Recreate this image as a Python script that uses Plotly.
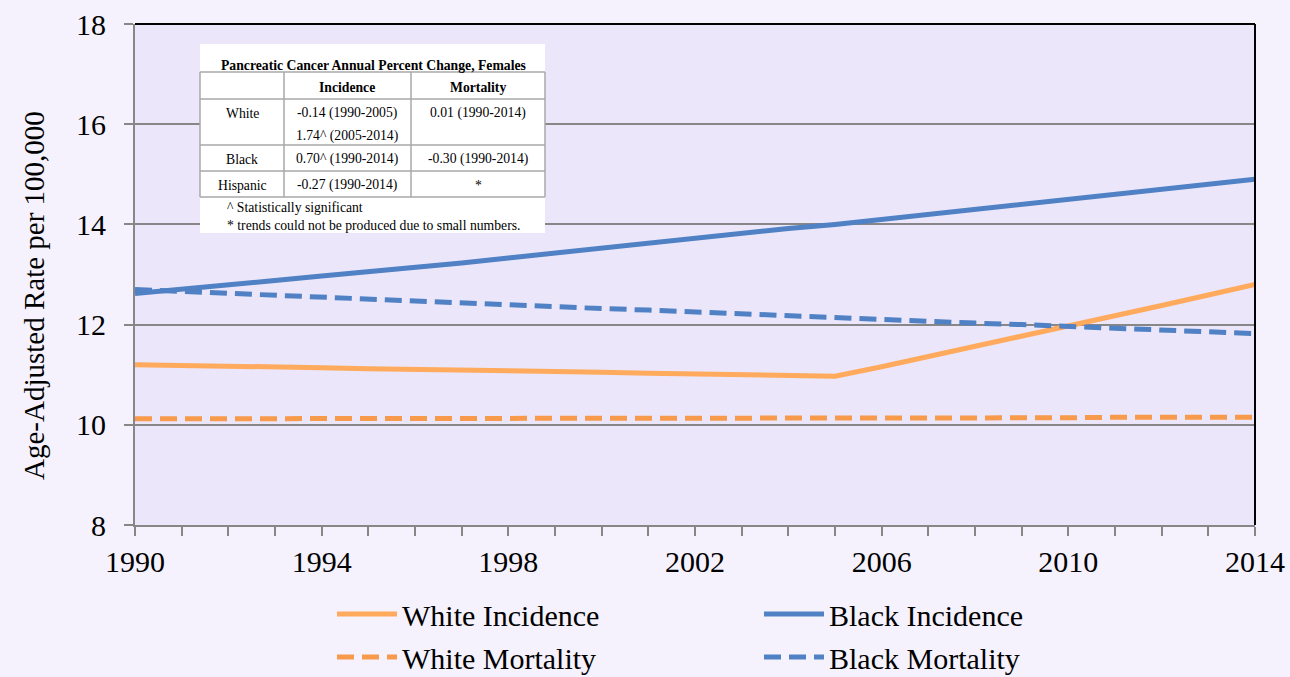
import plotly.graph_objects as go

years = list(range(1990, 2015))
white_incidence = [11.20, 11.19, 11.17, 11.16, 11.14, 11.12, 11.11, 11.09, 11.08, 11.06,
                   11.05, 11.03, 11.02, 11.00, 10.99, 10.97, 11.16, 11.36, 11.56, 11.76,
                   11.96, 12.17, 12.38, 12.59, 12.80]
black_incidence = [12.62, 12.70, 12.80, 12.88, 12.97, 13.05, 13.15, 13.23, 13.33, 13.43,
                   13.52, 13.62, 13.72, 13.82, 13.92, 14.00, 14.10, 14.20, 14.30, 14.40,
                   14.50, 14.58, 14.68, 14.80, 14.90]
white_mortality = [10.12, 10.12, 10.12, 10.12, 10.12, 10.12, 10.12, 10.12, 10.12, 10.12,
                   10.12, 10.12, 10.12, 10.12, 10.12, 10.12, 10.12, 10.14, 10.14, 10.14,
                   10.14, 10.15, 10.15, 10.15, 10.15]
black_mortality = [12.70, 12.66, 12.62, 12.58, 12.55, 12.51, 12.47, 12.43, 12.40, 12.36,
                   12.32, 12.29, 12.25, 12.21, 12.18, 12.14, 12.10, 12.07, 12.03, 12.00,
                   11.96, 11.93, 11.89, 11.86, 11.82]

series_names = ["White Incidence", "Black Incidence", "White Mortality", "Black Mortality"]

table_title = "Pancreatic Cancer Annual Percent Change, Females"
table_header = ["", "Incidence", "Mortality"]
table_groups = ["White", "Black", "Hispanic"]
table_incidence = [["-0.14 (1990-2005)", "1.74^ (2005-2014)"], ["0.70^ (1990-2014)"], ["-0.27 (1990-2014)"]]
table_mortality = [["0.01 (1990-2014)"], ["-0.30 (1990-2014)"], ["*"]]
table_notes = ["^ Statistically significant", "* trends could not be produced due to small numbers."]

FONT = "Liberation Serif"
ORANGE = "#FFAA5C"
ORANGE_D = "#F79A4C"
BLUE = "#4F81C4"
GRID = "#878787"

# plot area in pixels
L, R, T, B = 135, 1255, 24, 525
W, H = 1290, 677
def px(x):
    return (x - L) / (R - L)
def py(y):
    return (B - y) / (B - T)

fig = go.Figure()
fig.add_trace(go.Scatter(x=years, y=white_incidence, name=series_names[0], mode="lines",
                         line=dict(color=ORANGE, width=5), legend="legend"))
fig.add_trace(go.Scatter(x=years, y=black_incidence, name=series_names[1], mode="lines",
                         line=dict(color=BLUE, width=5), legend="legend"))
fig.add_trace(go.Scatter(x=years, y=white_mortality, name=series_names[2], mode="lines",
                         line=dict(color=ORANGE_D, width=5, dash="17px,8px"), legend="legend2"))
fig.add_trace(go.Scatter(x=years, y=black_mortality, name=series_names[3], mode="lines",
                         line=dict(color=BLUE, width=5, dash="17px,8px"), legend="legend2"))

shapes = []
annotations = []
# top and right black border
shapes.append(dict(type="line", xref="paper", yref="paper", x0=0, x1=1, y0=1, y1=1,
                   line=dict(color="black", width=2)))
shapes.append(dict(type="line", xref="paper", yref="paper", x0=1, x1=1, y0=0, y1=1,
                   line=dict(color="black", width=2)))

# table box
shapes.append(dict(type="rect", xref="paper", yref="paper", x0=px(200), x1=px(545),
                   y0=py(233), y1=py(44), fillcolor="white", line=dict(width=0), layer="above"))
TL = "#A8A8A8"
col_x = [200, 284, 411, 545]
row_y = [72, 99, 145, 171, 197]
for yy in row_y:
    shapes.append(dict(type="line", xref="paper", yref="paper", x0=px(200), x1=px(545),
                       y0=py(yy), y1=py(yy), line=dict(color=TL, width=1.5), layer="above"))
for xx in col_x:
    shapes.append(dict(type="line", xref="paper", yref="paper", x0=px(xx), x1=px(xx),
                       y0=py(72), y1=py(197), line=dict(color=TL, width=1.5), layer="above"))

tfont = dict(family=FONT, size=13.7, color="black")
def tann(text, x, y, bold=False, xanchor="center"):
    annotations.append(dict(text=("<b>%s</b>" % text) if bold else text, xref="paper", yref="paper",
                            x=px(x), y=py(y), xanchor=xanchor, yanchor="middle",
                            showarrow=False, font=tfont))

tann(table_title, 373, 65, bold=True)
col_c = [242, 347, 478]
for i, h in enumerate(table_header):
    if h:
        tann(h, col_c[i], 87, bold=True)
group_y = [113, 159, 185]
for i, g in enumerate(table_groups):
    tann(g, col_c[0], group_y[i])
    for j, t in enumerate(table_incidence[i]):
        tann(t, col_c[1], group_y[i] + 23 * j)
    for j, t in enumerate(table_mortality[i]):
        tann(t, col_c[2], group_y[i] + 23 * j)
tann(table_notes[0], 225, 207, xanchor="left")
tann(table_notes[1], 225, 225, xanchor="left")

# y axis title
annotations.append(dict(text="Age-Adjusted Rate per 100,000", xref="paper", yref="paper",
                        x=px(34), y=py(296), textangle=-90, showarrow=False,
                        xanchor="center", yanchor="middle",
                        font=dict(family=FONT, size=29, color="black")))

leg_common = dict(orientation="h", xanchor="left", yanchor="middle",
                  entrywidth=352, entrywidthmode="pixels", itemwidth=60,
                  bgcolor="rgba(0,0,0,0)", font=dict(family=FONT, size=30, color="black"))

fig.update_layout(
    width=W, height=H,
    margin=dict(l=L, r=W - R, t=T, b=H - B, autoexpand=False),
    paper_bgcolor="#F5F2FD",
    plot_bgcolor="#EBE6FA",
    font=dict(family=FONT, color="black"),
    showlegend=True,
    legend=dict(x=px(332), y=py(614), **leg_common),
    legend2=dict(x=px(332), y=py(657), **leg_common),
    shapes=shapes,
    annotations=annotations,
    xaxis=dict(range=[1990, 2014], tick0=1990, dtick=4, ticks="outside", ticklen=9,
               tickwidth=2, tickcolor=GRID, showgrid=False, showline=True, linecolor=GRID,
               linewidth=2, zeroline=False, ticklabelstandoff=0,
               tickfont=dict(family=FONT, size=30, color="black"),
               minor=dict(dtick=1, tick0=1990, ticks="outside", ticklen=9, tickwidth=2,
                          tickcolor=GRID, showgrid=False)),
    yaxis=dict(range=[8, 18], dtick=2, ticks="outside", ticklen=9, tickwidth=2,
               tickcolor=GRID, showgrid=True, gridcolor=GRID, gridwidth=2,
               showline=True, linecolor=GRID, linewidth=2, zeroline=False,
               ticklabelstandoff=12,
               tickfont=dict(family=FONT, size=30, color="black")),
)

fig.write_html("out.html", config={"displayModeBar": False},
               post_script="document.body.style.margin='0';document.body.style.overflow='hidden';")
